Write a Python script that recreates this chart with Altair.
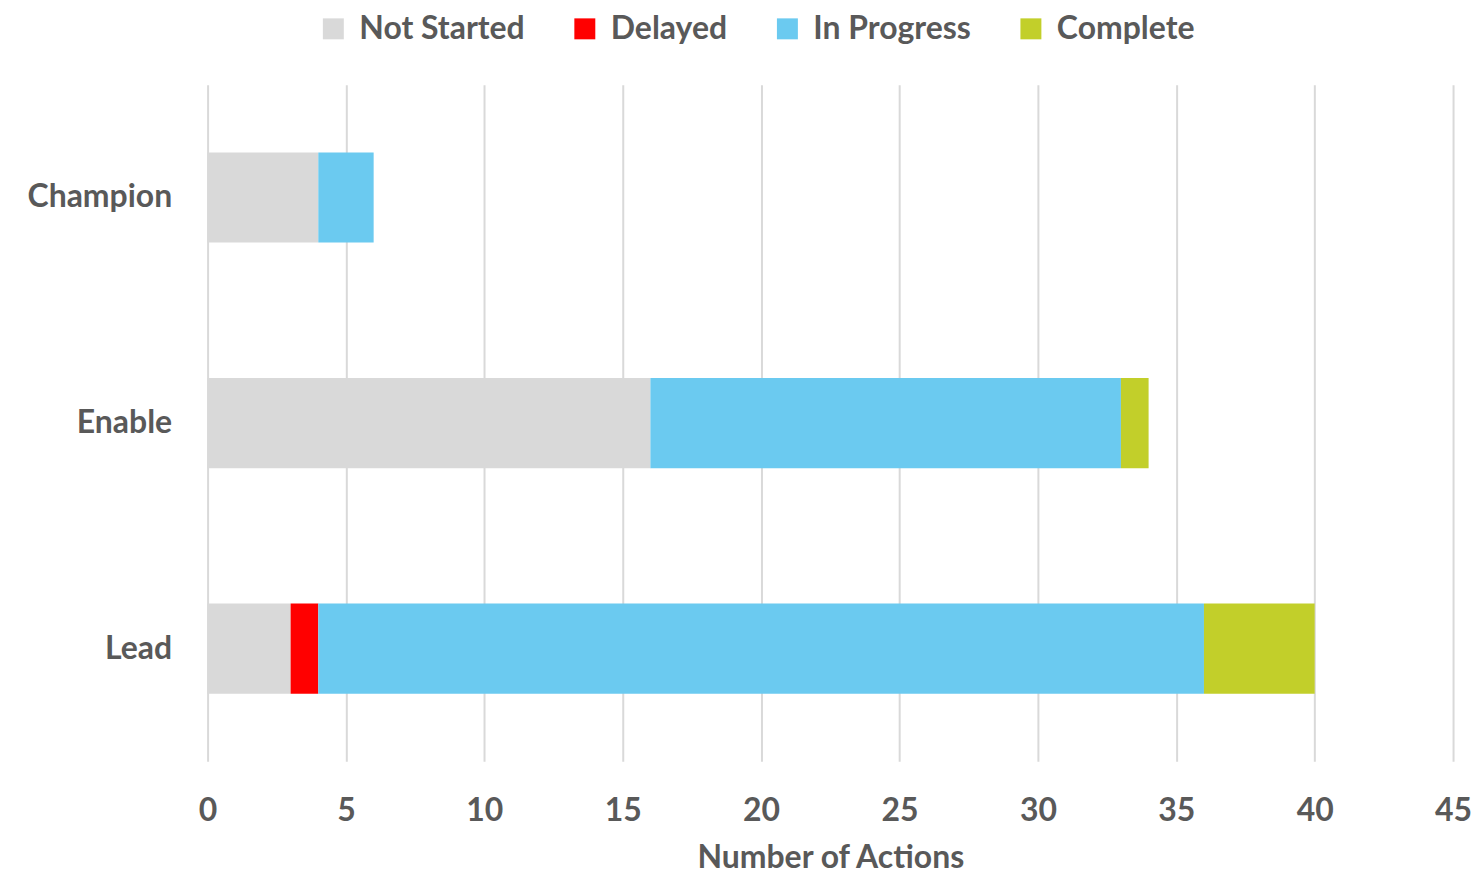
import altair as alt
import pandas as pd

categories = ["Champion", "Enable", "Lead"]
statuses = ["Not Started", "Delayed", "In Progress", "Complete"]
not_started = [4, 16, 3]
delayed = [0, 0, 1]
in_progress = [2, 17, 32]
complete = [0, 1, 4]
colors = ["#D9D9D9", "#FF0000", "#6BCAF0", "#C2CF2A"]
x_ticks = [0, 5, 10, 15, 20, 25, 30, 35, 40, 45]

series = [not_started, delayed, in_progress, complete]
rows = []
for si, (status, vals) in enumerate(zip(statuses, series)):
    for ci, cat in enumerate(categories):
        if vals[ci] > 0:
            rows.append({"Role": cat, "Status": status, "Count": vals[ci], "order": si})
df = pd.DataFrame(rows)

FONT = "Lato"
TXT = "#595959"

chart = alt.Chart(df).mark_bar().encode(
    y=alt.Y("Role:N", sort=categories,
            scale=alt.Scale(paddingInner=0.6, paddingOuter=0.3),
            axis=alt.Axis(title=None, domain=False, ticks=False, grid=False,
                          labelFont=FONT, labelFontWeight="bold", labelFontSize=32,
                          labelColor=TXT, labelPadding=36)),
    x=alt.X("Count:Q", stack="zero",
            scale=alt.Scale(domain=[0, 45], nice=False),
            axis=alt.Axis(title="Number of Actions", values=x_ticks, domain=False, ticks=False,
                          grid=True, gridColor="#D9D9D9", gridWidth=2,
                          labelFlush=False, labelOverlap=False,
                          labelFont=FONT, labelFontWeight="bold", labelFontSize=32,
                          labelColor=TXT, labelPadding=34,
                          titleFont=FONT, titleFontWeight="bold", titleFontSize=32,
                          titleColor=TXT, titleBaseline="alphabetic", titleY=106)),
    color=alt.Color("Status:N", sort=statuses,
                    scale=alt.Scale(domain=statuses, range=colors),
                    legend=alt.Legend(title=None, orient="none", legendX=110, legendY=-72,
                                      direction="horizontal", symbolType="square",
                                      symbolSize=441, symbolStrokeWidth=0,
                                      labelFont=FONT, labelFontWeight="bold", labelFontSize=32,
                                      labelColor=TXT, labelOffset=10, columnPadding=44,
                                      labelLimit=400)),
    order=alt.Order("order:Q"),
).properties(
    width=1248, height=678,
    autosize=alt.AutoSizeParams(type="none"),
    padding={"left": 200, "top": 76, "right": 22, "bottom": 113},
).configure_view(strokeWidth=0)

chart.save("out.html", embed_options={"renderer": "svg", "actions": False})
